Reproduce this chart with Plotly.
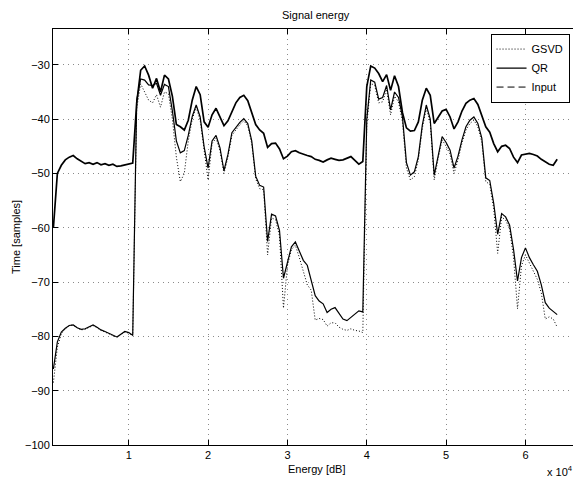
import plotly.graph_objects as go

# sample positions (energy axis)
sample_x = list(range(500, 64001, 500))

input_db = [
    -60.0, -50.0, -48.5, -47.5, -47.0, -46.7, -47.3, -47.8, -48.2, -48.0,
    -48.3, -48.0, -48.4, -48.2, -48.5, -48.3, -48.7, -48.6, -48.4, -48.3,
    -48.1, -37.0, -31.0, -30.2, -31.9, -34.3, -32.5, -35.0, -31.9, -32.6,
    -35.8, -41.0, -41.4, -42.0, -40.2, -36.5, -34.0, -35.5, -40.5, -41.5,
    -39.2, -38.0, -39.5, -41.2, -40.3, -38.5, -37.0, -36.0, -35.6, -36.6,
    -38.8, -41.0, -42.0, -42.6, -45.2, -44.5, -44.4, -45.5, -47.3, -46.8,
    -46.0, -45.8, -46.2, -46.5, -46.7, -46.9, -47.4, -47.6, -47.9, -47.5,
    -47.2, -47.4, -47.6, -47.5, -47.2, -46.9, -47.6, -48.3, -47.8, -34.0,
    -30.2, -30.6, -31.6, -33.1, -31.8, -34.7, -32.0, -34.0, -38.8, -41.6,
    -42.2, -42.1, -40.5, -36.5, -34.3, -35.6, -40.8, -39.6, -38.5, -38.2,
    -39.6, -41.8, -40.5, -38.5, -37.1, -36.5, -36.2, -37.3, -39.5, -41.4,
    -42.4, -44.5, -46.0, -45.0, -44.8, -45.4, -47.0, -48.0, -46.6, -46.4,
    -46.3, -46.5, -46.8, -47.4, -47.9, -48.3, -48.5, -47.4,
]

qr_db = [
    -86.0, -81.0, -79.2, -78.5, -78.0, -77.9, -78.4, -78.7, -78.6, -78.2,
    -77.9, -78.3, -78.8, -79.1, -79.4, -79.7, -80.1, -79.6, -79.1, -79.3,
    -79.8, -36.5, -32.6, -32.8, -33.7, -33.8, -33.4, -35.6, -33.6, -34.0,
    -38.5, -44.0, -46.2, -45.8, -43.0, -39.5, -37.4, -39.6, -45.1, -49.0,
    -44.0, -43.0, -45.3, -49.5, -46.5, -42.5, -41.5, -40.6, -39.9, -40.8,
    -44.0, -50.5, -52.2, -52.5, -62.5, -57.5, -57.8, -60.5, -69.3, -66.5,
    -63.5, -62.6, -64.2, -66.0, -66.9, -69.5, -72.5, -73.5, -74.0, -75.6,
    -75.0, -74.7, -75.8, -76.8, -77.1, -76.5, -76.0, -75.3, -75.5, -40.0,
    -32.8, -33.2, -36.3, -36.0, -33.8, -38.3, -35.0, -36.0, -39.6, -48.0,
    -50.3, -49.7, -46.9, -41.1, -37.4, -40.0, -50.3, -46.5, -43.2, -44.3,
    -45.7, -49.0, -46.8, -43.8, -41.4, -40.2, -39.6, -40.8, -43.5, -50.8,
    -51.3, -55.5, -61.2, -57.4, -58.0, -59.5, -64.0, -69.8, -65.5, -63.7,
    -65.5, -66.8, -68.0, -70.5, -73.8, -74.8, -75.4, -76.0,
]

gsvd_db = [
    -88.5, -82.0, -79.5, -78.6, -78.0, -77.9, -78.4, -78.8, -78.7, -78.3,
    -78.0, -78.4, -78.9, -79.2, -79.5, -79.8, -80.2, -79.7, -79.2, -79.4,
    -79.9, -38.0, -33.5, -35.0, -36.5, -37.0, -35.5, -37.8, -35.0, -35.3,
    -40.0, -47.0, -51.5, -50.0, -44.0, -40.0, -37.8, -40.2, -46.0, -51.2,
    -44.5, -43.5, -45.8, -50.0, -47.0, -43.0, -42.0, -41.0, -40.3, -41.2,
    -44.5, -51.0, -52.8, -53.0, -65.0, -58.2, -58.5, -61.5, -74.8, -67.0,
    -64.0, -63.2, -65.5, -68.0, -70.5, -71.5, -77.0, -76.7, -76.9, -78.1,
    -77.5, -77.5, -78.3, -78.7, -78.9, -78.6, -78.9, -79.0, -79.3, -41.0,
    -33.4, -33.8, -37.0, -36.8, -34.5, -39.2, -35.8, -36.8, -40.5, -49.0,
    -51.2, -50.6, -47.5, -41.7, -38.0, -40.6, -51.2, -47.2, -43.8, -45.0,
    -46.5, -50.0, -47.5, -44.4, -42.0, -40.8, -40.2, -41.4, -44.2, -51.5,
    -52.0, -56.5, -64.7, -58.0, -58.6, -60.2, -65.5, -74.9, -67.0, -65.0,
    -66.5, -68.0, -69.5, -72.0, -76.8, -76.4, -76.8, -78.3,
]

x_tick_vals = [10000, 20000, 30000, 40000, 50000, 60000]
x_tick_text = ["1", "2", "3", "4", "5", "6"]
y_tick_vals = [-100, -90, -80, -70, -60, -50, -40, -30]

FONT = "Liberation Sans, Arial, Helvetica, sans-serif"
TXT = dict(family=FONT, size=11, color="black")

fig = go.Figure()
fig.add_trace(go.Scatter(x=sample_x, y=gsvd_db, mode="lines", name="GSVD",
                         line=dict(color="black", width=1, dash="1px,2px")))
fig.add_trace(go.Scatter(x=sample_x, y=qr_db, mode="lines", name="QR",
                         line=dict(color="black", width=1.2)))
fig.add_trace(go.Scatter(x=sample_x, y=input_db, mode="lines", name="Input",
                         legendgroup="input", showlegend=False,
                         line=dict(color="black", width=1.7)))
fig.add_trace(go.Scatter(x=[None], y=[None], mode="lines", name="Input",
                         legendgroup="input",
                         line=dict(color="black", width=1, dash="7px,4px")))

axis_common = dict(
    showline=True, linecolor="black", linewidth=1, mirror="ticks",
    ticks="inside", ticklen=5, tickcolor="black", tickwidth=1,
    showgrid=True, gridcolor="#8a8a8a", gridwidth=1, griddash="1px,4px",
    zeroline=False, tickfont=TXT,
)

# the page adds an 8px body margin, so the figure is sized 8px smaller
fig.update_layout(
    width=573, height=471, autosize=False,
    margin=dict(l=45, r=2, t=21, b=34),
    paper_bgcolor="white", plot_bgcolor="white",
    font=TXT,
    xaxis=dict(range=[450, 66750], tickvals=x_tick_vals, ticktext=x_tick_text,
               **axis_common),
    yaxis=dict(range=[-100, -23.4], tickvals=y_tick_vals, **axis_common),
    showlegend=True,
    legend=dict(x=0.982, xanchor="right", y=0.989, yanchor="top",
                bgcolor="white", bordercolor="black", borderwidth=1,
                font=TXT, itemwidth=30, tracegroupgap=0),
    annotations=[
        dict(text="Signal energy", xref="paper", yref="paper", x=0.5, y=1,
             yshift=14, xanchor="center", yanchor="middle", showarrow=False,
             font=TXT),
        dict(text="Energy [dB]", xref="paper", yref="paper", x=0.5, y=0,
             yshift=-24, xanchor="center", yanchor="middle", showarrow=False,
             font=TXT),
        dict(text="Time [samples]", xref="paper", yref="paper", x=0, y=0.5,
             xshift=-37, xanchor="center", yanchor="middle", textangle=-90,
             showarrow=False, font=TXT),
        dict(text="x 10<sup>4</sup>", xref="paper", yref="paper", x=1, y=0,
             yshift=-26, xshift=-4, xanchor="right", yanchor="middle",
             showarrow=False, font=TXT),
    ],
)

fig.write_html("out.html")
